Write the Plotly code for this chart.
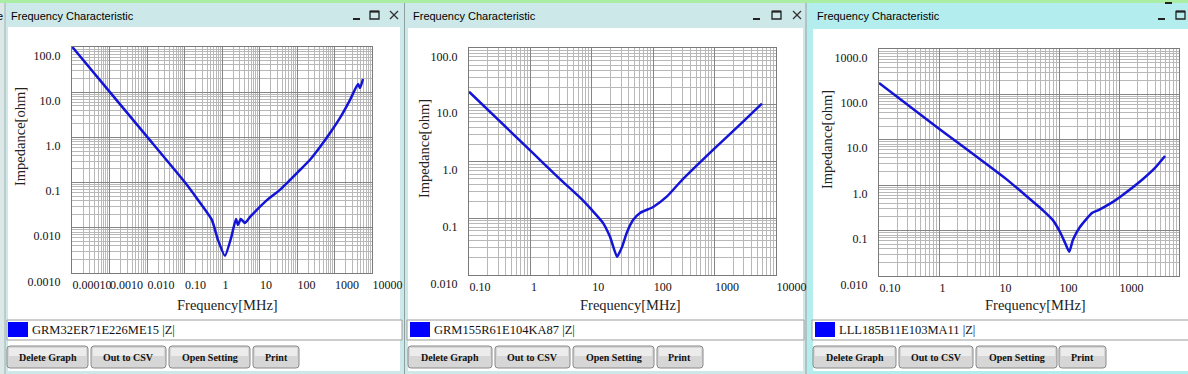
import plotly.graph_objects as go

W, H = 1188, 374

# ---------------- data ----------------
part_names = ["GRM32ER71E226ME15 |Z|", "GRM155R61E104KA87 |Z|", "LLL185B11E103MA11 |Z|"]

freq_1 = [1e-4, 1e-3, 1e-2, 0.1, 0.23, 0.54, 0.78, 1.2, 1.74, 2.36, 2.67, 3.16, 4.1, 5.6, 8.5,
          15.8, 35, 120, 223, 410, 760, 1400, 2580, 4250, 4800, 5750]
imp_1 = [102, 10.3, 1.04, 0.104, 0.041, 0.0148, 0.0054, 0.0024, 0.0059, 0.0157, 0.0115, 0.0157,
         0.0128, 0.0174, 0.025, 0.041, 0.069, 0.19, 0.32, 0.61, 1.25, 2.7, 6.7, 15.2, 12.4, 19.6]

freq_2 = [0.1, 1, 3.03, 6.9, 10, 15.2, 19.8, 25.8, 31, 37, 47, 61, 100, 166, 294, 1000, 3000, 5900]
imp_2 = [17, 1.55, 0.49, 0.215, 0.14, 0.083, 0.047, 0.021, 0.031, 0.055, 0.093, 0.124, 0.158, 0.24,
         0.47, 1.7, 5.2, 10.5]

freq_3 = [0.1, 1, 10.4, 13.1, 54, 79, 104, 126, 148, 171, 223, 355, 447, 794, 1040, 2400, 3980, 5860]
imp_3 = [178, 17.6, 1.75, 1.38, 0.28, 0.17, 0.093, 0.054, 0.034, 0.063, 0.12, 0.245, 0.28, 0.43,
         0.55, 1.3, 2.4, 4.4]

x_tickvals_1 = [1e-4, 1e-3, 1e-2, 1e-1, 1, 10, 100, 1000, 10000]
x_ticktext_1 = ["0.00010", "0.0010", "0.010", "0.10", "1", "10", "100", "1000", "10000"]
x_tickvals_23 = [0.1, 1, 10, 100, 1000, 10000]
x_ticktext_23 = ["0.10", "1", "10", "100", "1000", "10000"]
y_tickvals_1 = [1e-3, 1e-2, 0.1, 1, 10, 100]
y_ticktext_1 = ["0.0010", "0.010", "0.1", "1.0", "10.0", "100.0"]
y_tickvals_2 = [1e-2, 0.1, 1, 10, 100]
y_ticktext_2 = ["0.010", "0.1", "1.0", "10.0", "100.0"]
y_tickvals_3 = [1e-2, 0.1, 1, 10, 100, 1000]
y_ticktext_3 = ["0.010", "0.1", "1.0", "10.0", "100.0", "1000.0"]

window_title = "Frequency Characteristic"
x_title = "Frequency[MHz]"
y_title = "Impedance[ohm]"
button_labels = ["Delete Graph", "Out to CSV", "Open Setting", "Print"]

# ---------------- layout geometry (pixels) ----------------
panels = [
    dict(freq=freq_1, imp=imp_1, xt=(x_tickvals_1, x_ticktext_1), yt=(y_tickvals_1, y_ticktext_1),
         plot=(72, 372, 47, 273), win=(5, 404), content=(8, 400, 27), frame="#cce8e8",
         title_x=9, ctrl=(353, 370, 390), ytitle=(20, 137), xtitle=(227, 305),
         legend=(7, 402), sq=(8, 28), buttons=[(7, 88), (91, 166), (169, 250), (253, 299)]),
    dict(freq=freq_2, imp=imp_2, xt=(x_tickvals_23, x_ticktext_23), yt=(y_tickvals_2, y_ticktext_2),
         plot=(469, 776, 48, 275), win=(405, 806), content=(408, 803, 28), frame="#cce8e8",
         title_x=411, ctrl=(753, 772, 793), ytitle=(424, 149), xtitle=(630, 305),
         legend=(407, 804), sq=(410, 430), buttons=[(408, 492), (495, 570), (573, 654), (657, 703)]),
    dict(freq=freq_3, imp=imp_3, xt=(x_tickvals_23, x_ticktext_23), yt=(y_tickvals_3, y_ticktext_3),
         plot=(879, 1179, 49, 276), win=(807, 1188), content=(813, 1188, 29), frame="#b4eded",
         title_x=815, ctrl=(1158, 1176, None), ytitle=(827, 140), xtitle=(1035, 305),
         legend=(812, 1192), sq=(815, 835), buttons=[(813, 896), (899, 973), (976, 1057), (1059, 1106)]),
]


def fx(x):
    return x / W


def fy(y):
    return 1 - y / H


def minors(vals):
    return [k * v for v in vals[:-1] for k in range(2, 10)]


def rect(x0, y0, x1, y1, fill, line=None, lw=1):
    return dict(type="rect", xref="paper", yref="paper", x0=fx(x0), x1=fx(x1), y0=fy(y1), y1=fy(y0),
                fillcolor=fill, line=dict(color=line or fill, width=lw if line else 0), layer="below")


def line(x0, y0, x1, y1, color, lw=1):
    return dict(type="line", xref="paper", yref="paper", x0=fx(x0), x1=fx(x1), y0=fy(y0), y1=fy(y1),
                line=dict(color=color, width=lw), layer="below")


def rounded(x0, y0, x1, y1, r, fill, lc, lw=1):
    p = (f"M {fx(x0 + r)},{fy(y0)} L {fx(x1 - r)},{fy(y0)} Q {fx(x1)},{fy(y0)} {fx(x1)},{fy(y0 + r)} "
         f"L {fx(x1)},{fy(y1 - r)} Q {fx(x1)},{fy(y1)} {fx(x1 - r)},{fy(y1)} "
         f"L {fx(x0 + r)},{fy(y1)} Q {fx(x0)},{fy(y1)} {fx(x0)},{fy(y1 - r)} "
         f"L {fx(x0)},{fy(y0 + r)} Q {fx(x0)},{fy(y0)} {fx(x0 + r)},{fy(y0)} Z")
    return dict(type="path", xref="paper", yref="paper", path=p, fillcolor=fill,
                line=dict(color=lc, width=lw), layer="below")


fig = go.Figure()
shapes = []
annotations = []

# background chrome
shapes.append(rect(0, 0, 5, H, "#dce8e8"))
for p in panels:
    shapes.append(rect(p["win"][0], 3, p["win"][1], H, p["frame"]))
shapes.append(rect(0, 0, W, 3, "#aaeea6"))
for p in panels:
    cx0, cx1, cy0 = p["content"]
    shapes.append(rect(cx0, cy0, cx1, 371, "white"))
shapes.append(line(404.5, 3, 404.5, H, "#8fa0a0"))
shapes.append(line(806, 3, 806, H, "#8fa0a0"))
shapes.append(line(5, 3, 5, H, "#a0b0b0"))
# window behind at top right
shapes.append(line(1165, 3, 1172, 3, "#222", 2))
annotations.append(dict(x=fx(5), y=fy(16), xref="paper", yref="paper", text="e", showarrow=False,
                        xanchor="right", yanchor="middle",
                        font=dict(family="Liberation Sans", size=11, color="#000")))

for i, p in enumerate(panels, start=1):
    sfx = "" if i == 1 else str(i)
    x0, x1, y0, y1 = p["plot"]
    xv, xtxt = p["xt"]
    yv, ytxt = p["yt"]
    fig.add_trace(go.Scatter(
        x=p["freq"], y=p["imp"], mode="lines", name=part_names[i - 1],
        line=dict(color="#1414d6", width=2.5, shape="spline", smoothing=0.5),
        xaxis="x" + sfx, yaxis="y" + sfx, showlegend=False, hoverinfo="skip"))
    axis_common = dict(type="log", showline=True, mirror=True, linecolor="#7a7a7a", linewidth=1,
                       showgrid=True, gridcolor="#858585", gridwidth=1, zeroline=False, ticks="",
                       tickfont=dict(family="Liberation Serif", size=12, color="#111"),
                       tickmode="array", tickangle=0, automargin=False)
    fig.layout["xaxis" + sfx] = dict(
        axis_common, domain=[fx(x0), fx(x1)], anchor="y" + sfx,
        range=[-4 if i == 1 else -1, 4], tickvals=xv, ticktext=xtxt,
        ticklabelposition="outside right", ticklabelstandoff=1,
        minor=dict(tickmode="array", tickvals=minors(xv), showgrid=True, gridcolor="#b8b8b8", gridwidth=1))
    yr = {1: [-3, 2], 2: [-2, 2], 3: [-2, 3]}[i]
    fig.layout["yaxis" + sfx] = dict(
        axis_common, domain=[fy(y1), fy(y0)], anchor="x" + sfx,
        range=yr, tickvals=yv, ticktext=ytxt,
        ticklabelposition="outside bottom", ticklabelstandoff=8,
        minor=dict(tickmode="array", tickvals=minors(yv), showgrid=True, gridcolor="#b8b8b8", gridwidth=1))

    # titles of axes
    annotations.append(dict(x=fx(p["ytitle"][0]), y=fy(p["ytitle"][1]), xref="paper", yref="paper",
                            text=y_title, textangle=-90, showarrow=False, xanchor="center", yanchor="middle",
                            font=dict(family="Liberation Serif", size=14.5, color="#222")))
    annotations.append(dict(x=fx(p["xtitle"][0]), y=fy(p["xtitle"][1]), xref="paper", yref="paper",
                            text=x_title, showarrow=False, xanchor="center", yanchor="middle",
                            font=dict(family="Liberation Serif", size=14.5, color="#222")))
    # window title
    annotations.append(dict(x=fx(p["title_x"]), y=fy(16), xref="paper", yref="paper", text=window_title,
                            showarrow=False, xanchor="left", yanchor="middle",
                            font=dict(family="Liberation Sans", size=11, color="#000")))
    # window controls
    c_us, c_sq, c_x = p["ctrl"]
    shapes.append(line(c_us, 19, c_us + 7, 19, "#222", 2))
    shapes.append(dict(type="rect", xref="paper", yref="paper", x0=fx(c_sq), x1=fx(c_sq + 9),
                       y0=fy(19), y1=fy(11.5), line=dict(color="#222", width=1.3), fillcolor="rgba(0,0,0,0)",
                       layer="below"))
    shapes.append(line(c_sq, 11.5, c_sq + 9, 11.5, "#222", 2))
    if c_x is not None:
        shapes.append(line(c_x, 11, c_x + 8, 19, "#333", 1.3))
        shapes.append(line(c_x, 19, c_x + 8, 11, "#333", 1.3))
    # legend box
    lx0, lx1 = p["legend"]
    shapes.append(rect(lx0, 320, lx1, 340, "white", "#9c9c9c", 1))
    shapes.append(rect(p["sq"][0], 322, p["sq"][1], 337, "#0000ff"))
    annotations.append(dict(x=fx(p["sq"][1] + 2), y=fy(330), xref="paper", yref="paper",
                            text=part_names[i - 1], showarrow=False, xanchor="left", yanchor="middle",
                            font=dict(family="Liberation Serif", size=12.5, color="#111")))
    # buttons
    for (bx0, bx1), lab in zip(p["buttons"], button_labels):
        shapes.append(rounded(bx0, 346, bx1, 368, 3, "#d6d6d6", "#8a8a8a", 1))
        shapes.append(rect(bx0 + 2, 348, bx1 - 2, 356, "#ececec"))
        annotations.append(dict(x=fx((bx0 + bx1) / 2), y=fy(357), xref="paper", yref="paper",
                                text="<b>" + lab + "</b>", showarrow=False, xanchor="center",
                                yanchor="middle",
                                font=dict(family="Liberation Serif", size=10, color="#111")))

fig.update_layout(
    width=W, height=H, autosize=False,
    margin=dict(l=0, r=0, t=0, b=0),
    paper_bgcolor="#cce8e8", plot_bgcolor="white",
    shapes=shapes, annotations=annotations, showlegend=False,
)

fig.write_html(
    "out.html",
    config={"displayModeBar": False},
    post_script=("document.body.style.margin='0';document.body.style.padding='0';"
                 "document.documentElement.style.overflow='hidden';"
                 "document.body.style.overflow='hidden';"),
)
